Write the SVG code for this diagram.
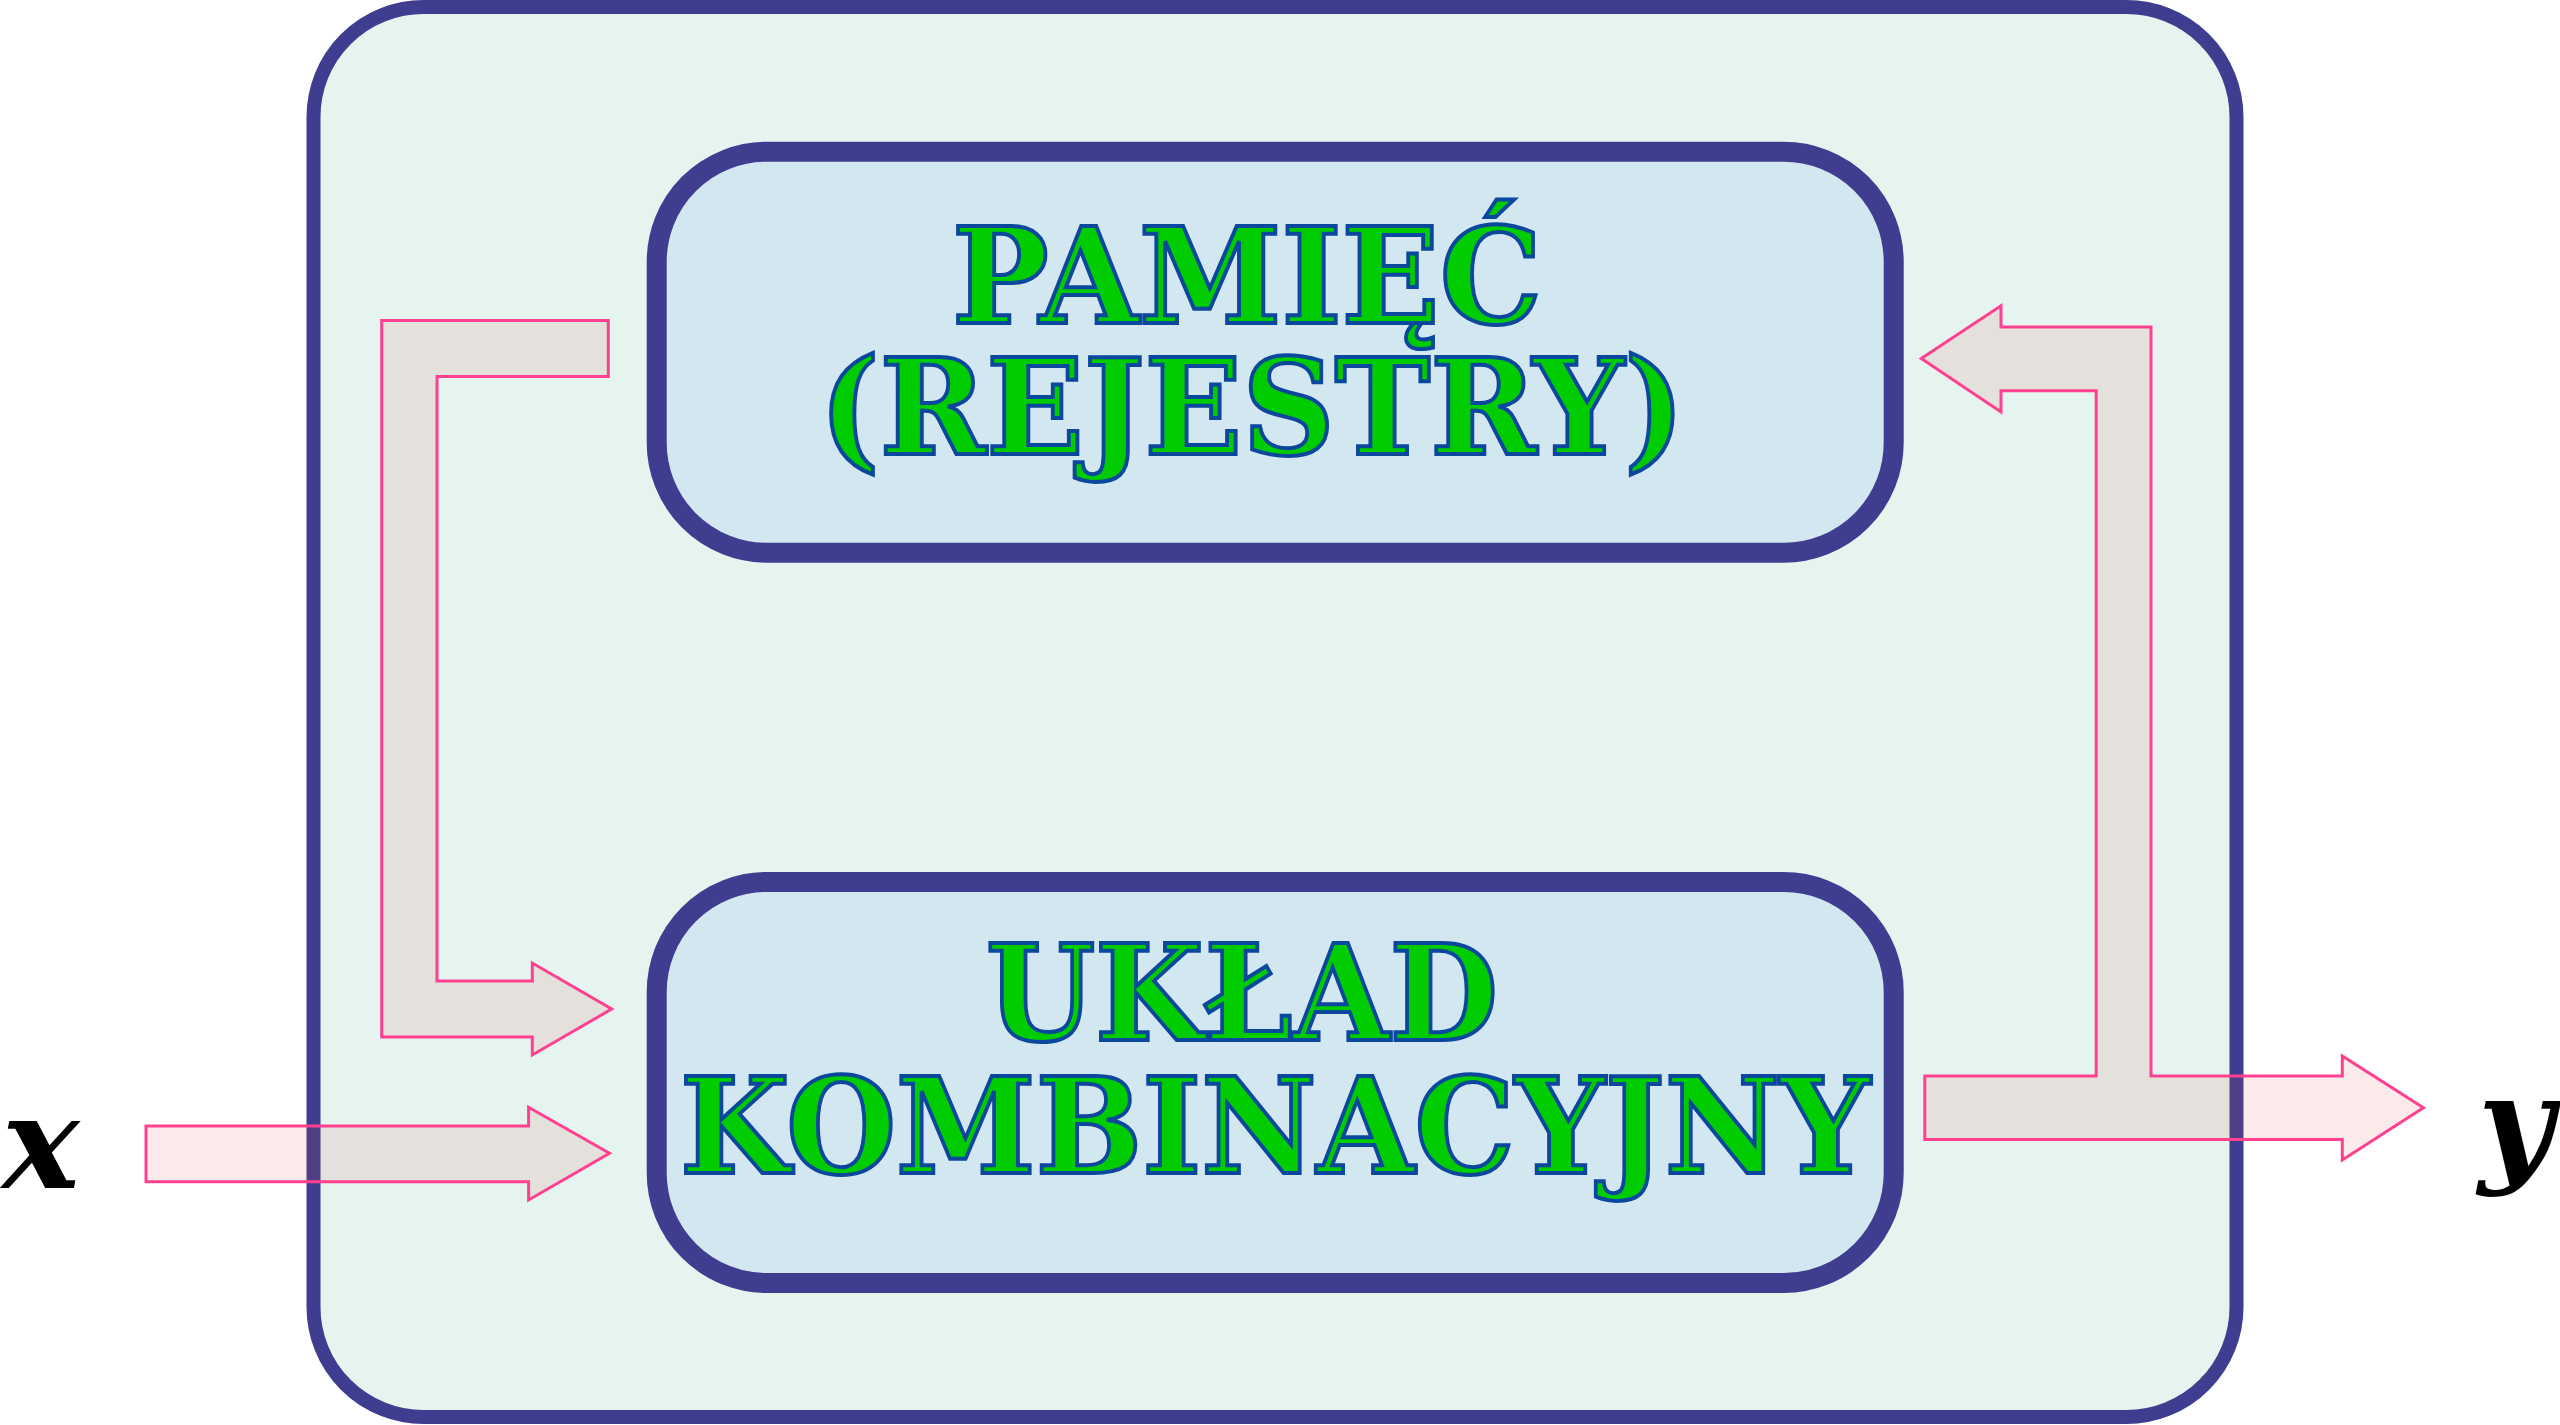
<svg xmlns="http://www.w3.org/2000/svg" width="2560" height="1425" viewBox="0 0 2560 1425">
  <style>
    .frame { fill: #e5f4ef; stroke: #3f3d8f; stroke-width: 14; }
    .box { fill: #d2e7f0; stroke: #3f3d8f; stroke-width: 20; }
    .lbl { font-family: "DejaVu Serif", "Liberation Serif", serif; font-weight: bold; font-size: 133px; fill: #00cc00; stroke: #0a479d; stroke-width: 4; text-anchor: middle; }
    .io { font-family: "DejaVu Serif", "Liberation Serif", serif; font-weight: bold; font-style: italic; font-size: 130px; fill: #000000; }
    .arrow { fill: #dc4848; fill-opacity: 0.115; stroke: #ff4091; stroke-width: 3; stroke-linejoin: miter; }
  </style>
  <rect width="2560" height="1425" fill="#ffffff"/>
  <g id="system">
    <rect class="frame" x="313.5" y="7" width="1923" height="1410" rx="110" ry="110"/>
  </g>
  <g id="pamiec">
    <rect class="box" x="656.7" y="151.7" width="1237" height="401" rx="110" ry="110"/>
    <text class="lbl" x="1247" y="323" textLength="590" lengthAdjust="spacingAndGlyphs">PAMIĘĆ</text>
    <text class="lbl" x="1252" y="454" textLength="866" lengthAdjust="spacingAndGlyphs">(REJESTRY)</text>
  </g>
  <g id="uklad">
    <rect class="box" x="656.7" y="882" width="1237" height="401" rx="110" ry="110"/>
    <text class="lbl" x="1242" y="1040" textLength="512" lengthAdjust="spacingAndGlyphs">UKŁAD</text>
    <text class="lbl" x="1275" y="1173" textLength="1190" lengthAdjust="spacingAndGlyphs">KOMBINACYJNY</text>
  </g>
  <g id="input-x">
    <text class="io" x="2" y="1188">x</text>
  </g>
  <g id="output-y">
    <text class="io" x="2478" y="1168">y</text>
  </g>
  <g id="connectors">
    <path class="arrow" d="M381.7,320.4 L608.3,320.4 L608.3,376.5 L437,376.5 L437,981 L532.3,981 L532.3,963 L611.7,1009 L532.3,1055 L532.3,1037 L381.7,1037 Z"/>
    <path class="arrow" d="M146,1126 L528.6,1126 L528.6,1107.3 L609.5,1153.3 L528.6,1200 L528.6,1181.7 L146,1181.7 Z"/>
    <path class="arrow" d="M1921.3,358.6 L2001,305.8 L2001,327 L2151,327 L2151,1076 L2342.3,1076 L2342.3,1056 L2423.4,1107.8 L2342.3,1160 L2342.3,1139.4 L1924.8,1139.4 L1924.8,1076 L2096.2,1076 L2096.2,390.8 L2001,390.8 L2001,412 Z"/>
  </g>
</svg>
